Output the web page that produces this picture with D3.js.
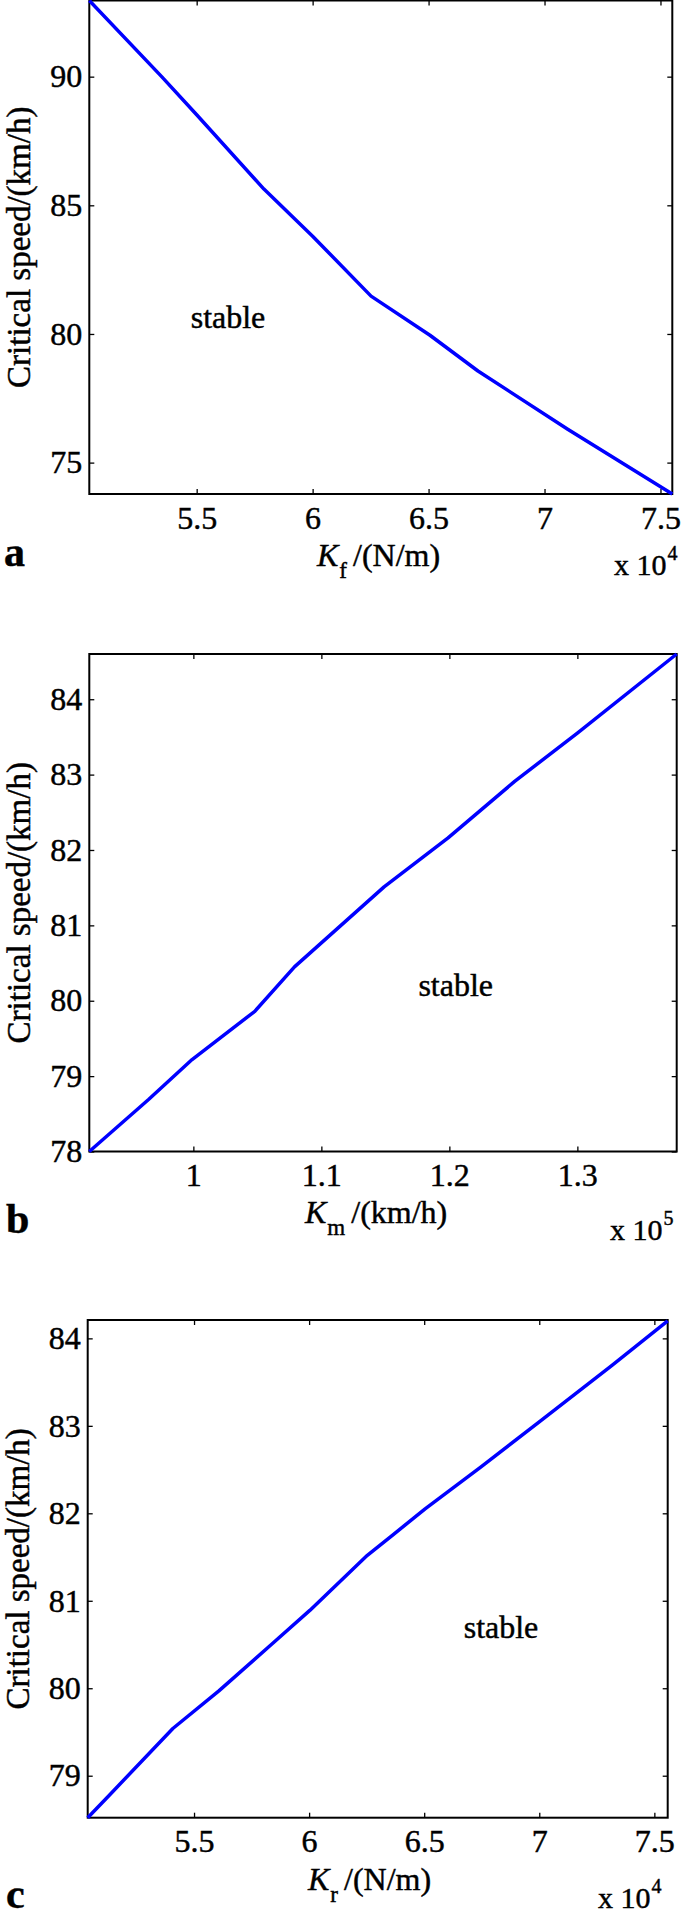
<!DOCTYPE html>
<html>
<head>
<meta charset="utf-8">
<script src="https://cdn.jsdelivr.net/npm/d3@7"></script>
<style>
  html, body { margin: 0; padding: 0; background: #fff; }
  svg text { font-family: "Liberation Serif", "Times New Roman", Times, serif; fill: #000; stroke: #000; stroke-width: 0.45px; }
</style>
</head>
<body>
<svg id="chart" width="685" height="1922"></svg>
<script>
// ---- Data ----
// Panel a: front stiffness K_f (x 10^4 N/m) vs critical speed (km/h)
const kfX = [5.037, 5.349, 5.5, 5.79, 6.0, 6.252, 6.506, 6.713, 7.1, 7.551];
const kfY = [92.96, 90.0, 88.52, 85.63, 83.8, 81.47, 79.95, 78.56, 76.3, 73.78];
// Panel b: K_m (x 10^5) vs critical speed
const kmX = [0.9187, 0.965, 0.999, 1.048, 1.079, 1.149, 1.199, 1.251, 1.300, 1.3776];
const kmY = [78.0, 78.69, 79.22, 79.86, 80.45, 81.51, 82.16, 82.91, 83.55, 84.6];
// Panel c: rear stiffness K_r (x 10^4 N/m) vs critical speed
const krX = [5.038, 5.133, 5.408, 5.608, 5.836, 6.003, 6.253, 6.367, 6.504, 6.747, 7.007, 7.316, 7.558];
const krY = [78.52, 78.78, 79.54, 79.97, 80.5, 80.89, 81.52, 81.76, 82.05, 82.53, 83.06, 83.69, 84.2];

// Axis domains
const kfXDomain = [5.037, 7.551], kfYDomain = [73.78, 92.96];
const kmXDomain = [0.9187, 1.3776], kmYDomain = [78.0, 84.6];
const krXDomain = [5.038, 7.558], krYDomain = [78.52, 84.21];

// Tick values / labels
const kfXTicks = [5.5, 6, 6.5, 7, 7.5];
const kfYTicks = [75, 80, 85, 90];
const kmXTicks = [1, 1.1, 1.2, 1.3];
const kmYTicks = [78, 79, 80, 81, 82, 83, 84];
const krXTicks = [5.5, 6, 6.5, 7, 7.5];
const krYTicks = [79, 80, 81, 82, 83, 84];

const yLabel = "Critical speed/(km/h)";
const panelLetters = ["a", "b", "c"];
const xSymbols = ["K", "K", "K"];
const xSubs = ["f", "m", "r"];
const xUnits = ["/(N/m)", "/(km/h)", "/(N/m)"];
const exponents = ["4", "5", "4"];
const regionText = "stable";

// ---- Layout ----
const layout = [
  { left: 89.3, right: 672.3, top: 0.5, bottom: 494,
    stable: [228, 328], letter: [4, 566], xlab: [317, 566], sci: [614, 575], ylabX: 30 },
  { left: 89.3, right: 676.7, top: 654, bottom: 1151.5,
    stable: [455.7, 995.6], letter: [6, 1233], xlab: [305, 1223], sci: [610, 1240], ylabX: 30 },
  { left: 87.7, right: 667.7, top: 1320, bottom: 1817.7,
    stable: [501, 1637.6], letter: [6, 1908], xlab: [308, 1890], sci: [598, 1908], ylabX: 29 }
];

const panels = [
  { xs: kfX, ys: kfY, xd: kfXDomain, yd: kfYDomain, xt: kfXTicks, yt: kfYTicks },
  { xs: kmX, ys: kmY, xd: kmXDomain, yd: kmYDomain, xt: kmXTicks, yt: kmYTicks },
  { xs: krX, ys: krY, xd: krXDomain, yd: krYDomain, xt: krXTicks, yt: krYTicks }
];

const svg = d3.select("#chart");
const tickFont = 32, labelFont = 32;
const serif = '"Liberation Serif", "Times New Roman", serif';

panels.forEach((p, i) => {
  const L = layout[i];
  const w = L.right - L.left, h = L.bottom - L.top;
  const x = d3.scaleLinear().domain(p.xd).range([0, w]);
  const y = d3.scaleLinear().domain(p.yd).range([h, 0]);
  const g = svg.append("g").attr("transform", `translate(${L.left},${L.top})`);

  const fmt = d => String(d);

  const axB = g.append("g").attr("transform", `translate(0,${h})`)
    .call(d3.axisBottom(x).tickValues(p.xt).tickFormat(fmt).tickSizeInner(-5).tickSizeOuter(0).tickPadding(12));
  const axT = g.append("g")
    .call(d3.axisTop(x).tickValues(p.xt).tickFormat("").tickSizeInner(-5).tickSizeOuter(0));
  const axL = g.append("g")
    .call(d3.axisLeft(y).tickValues(p.yt).tickFormat(fmt).tickSizeInner(-5).tickSizeOuter(0).tickPadding(7));
  const axR = g.append("g").attr("transform", `translate(${w},0)`)
    .call(d3.axisRight(y).tickValues(p.yt).tickFormat("").tickSizeInner(-5).tickSizeOuter(0));
  [axB, axT, axL, axR].forEach(a => {
    a.attr("font-family", serif);
    a.select(".domain").remove();
    a.selectAll(".tick line").attr("stroke", "#000").attr("stroke-width", 1.3);
    a.selectAll(".tick text").attr("font-size", tickFont)
      .attr("font-family", serif).attr("fill", "#000");
  });

  // box
  g.append("rect").attr("x", 0).attr("y", 0).attr("width", w).attr("height", h)
    .attr("fill", "none").attr("stroke", "#000").attr("stroke-width", 2);

  // curve
  const pts = p.xs.map((v, k) => [v, p.ys[k]]);
  g.append("path").datum(pts)
    .attr("d", d3.line().x(d => x(d[0])).y(d => y(d[1])))
    .attr("fill", "none").attr("stroke", "#0000ff").attr("stroke-width", 3.5)
    .attr("stroke-linejoin", "round");

  // region label
  svg.append("text").attr("x", L.stable[0]).attr("y", L.stable[1])
    .attr("text-anchor", "middle").attr("font-size", labelFont).text(regionText);

  // y label
  svg.append("text")
    .attr("transform", `translate(${L.ylabX},${(L.top + L.bottom) / 2}) rotate(-90)`)
    .attr("text-anchor", "middle").attr("font-size", 33).text(yLabel);

  // x label
  const xl = svg.append("text").attr("x", L.xlab[0]).attr("y", L.xlab[1]).attr("font-size", labelFont);
  xl.append("tspan").attr("font-style", "italic").text(xSymbols[i]);
  xl.append("tspan").attr("font-size", 23).attr("dy", 12).attr("dx", 1).text(xSubs[i]);
  xl.append("tspan").attr("dy", -12).attr("dx", 6).text(xUnits[i]);

  // scale exponent
  const sc = svg.append("text").attr("x", L.sci[0]).attr("y", L.sci[1]).attr("font-size", 30);
  sc.append("tspan").text("x 10");
  sc.append("tspan").attr("font-size", 20).attr("dy", -15).attr("dx", 1).text(exponents[i]);

  // panel letter
  svg.append("text").attr("x", L.letter[0]).attr("y", L.letter[1])
    .attr("font-size", 42).attr("font-weight", "bold").text(panelLetters[i]);
});
</script>
</body>
</html>
